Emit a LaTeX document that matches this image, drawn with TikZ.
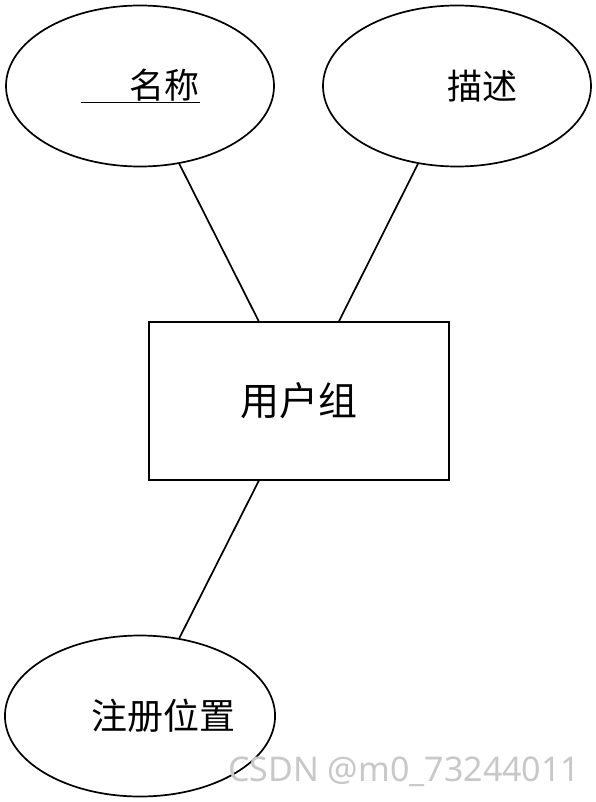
\documentclass[tikz,border=0pt]{standalone}
\usepackage{fontspec}
\usepackage{tikz}
\usepackage{xcolor}
\usetikzlibrary{shapes.geometric, positioning}
\newfontfamily\cjk{Noto Sans CJK SC}
\newfontfamily\wmfont{Noto Sans}
\definecolor{wmgray}{RGB}{200,200,200}

\begin{document}
\begin{tikzpicture}[
        x=1pt, y=-1pt,
        attrbox/.style={ellipse, draw, line width=1.7pt, minimum width=268pt, minimum height=161pt, inner sep=0pt, font=\cjk\fontsize{35}{40}\selectfont},
        entitybox/.style={rectangle, draw, line width=1.7pt, minimum width=300pt, minimum height=158pt, inner sep=0pt, font=\cjk\fontsize{39}{44}\selectfont},
        link/.style={-, line width=1.7pt},
        wmark/.style={font=\wmfont\fontsize{34}{38}\selectfont, text=wmgray, inner sep=0pt}
    ]
    \useasboundingbox (0,0) rectangle (596,802);

    % --- Entity and attributes ---
    \node[entitybox] (group) at (299,401) {用户组};
    \node[attrbox] (name) at (140,86) {\underline{\hspace*{49pt}名称}};
    \node[attrbox] (desc) at (457,86) {\hspace*{50pt}描述};
    \node[attrbox, font=\cjk\fontsize{36}{40}\selectfont] (place) at (140,716) {\hspace*{47pt}注册位置};

    % --- Connections ---
    \draw[link] (name) -- (group);
    \draw[link] (desc) -- (group);
    \draw[link] (group) -- (place);

    % watermark
    \node[wmark, anchor=south west] (wm) at (228,787) {CSDN @m0\_73244011};

\end{tikzpicture}
\end{document}
